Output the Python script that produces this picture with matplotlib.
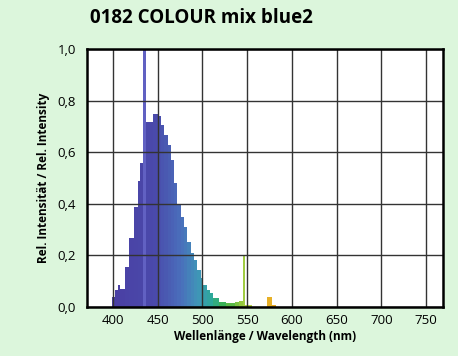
import numpy as np
import matplotlib.pyplot as plt
from matplotlib.colors import LinearSegmentedColormap

# spectrum: bin edges (nm) and relative intensity per bin
edges = [399, 402, 405.5, 407.5, 414, 418.5, 424, 427.5, 430, 433.5, 437,
         444.5, 450, 454, 457.5, 461, 465, 468.5, 472, 476, 479.5, 483, 487,
         490.5, 494, 498, 501, 505, 509, 512, 519, 526, 536, 541, 545.5, 548,
         556, 572.5, 578, 582]
values = [0.04, 0.066, 0.085, 0.07, 0.156, 0.267, 0.389, 0.49, 0.56, 1.0,
          0.716, 0.75, 0.74, 0.705, 0.667, 0.628, 0.57, 0.479, 0.395, 0.35,
          0.311, 0.253, 0.209, 0.182, 0.143, 0.111, 0.085, 0.066, 0.053, 0.034,
          0.021, 0.014, 0.02, 0.022, 0.2, 0.006, 0.0, 0.04, 0.008]

x_ticks = [400, 450, 500, 550, 600, 650, 700, 750]
y_ticks = [0.0, 0.2, 0.4, 0.6, 0.8, 1.0]

title = "0182 COLOUR mix blue2"
xlabel = "Wellenlänge / Wavelength (nm)"
ylabel = "Rel. Intensität / Rel. Intensity"

plt.rcParams['font.family'] = ['Open Sans', 'DejaVu Sans']

bg = '#dcf6dc'
spec = LinearSegmentedColormap.from_list('spec', [
    (0.0, '#4a3fa3'), (0.25, '#4a4aab'), (0.4, '#4a6fbb'), (0.5, '#3f95b8'),
    (0.58, '#2ea89a'), (0.66, '#3cb34a'), (0.75, '#8ec63f'),
    (0.82, '#c8d84a'), (0.9, '#e6b82a'), (1.0, '#e89a20')])

def wl_color(wl):
    return spec(np.clip((wl - 400) / (590 - 400), 0, 1))

fig = plt.figure(figsize=(4.58, 3.56), dpi=100, facecolor=bg)
ax = fig.add_axes([87 / 458, 1 - 307 / 356, (443 - 87) / 458, (307 - 49) / 356])

edges = np.array(edges)
widths = np.diff(edges)
centers = edges[:-1] + widths / 2
colors = [wl_color(c) for c in centers]
colors[9] = (0.38, 0.38, 0.76, 1.0)  # lighter spike at ~435 nm
ax.bar(edges[:-1], values, width=widths, align='edge', color=colors,
       linewidth=0, zorder=1)

ax.set_xlim(371, 769)
ax.set_ylim(0, 1.0)
ax.set_xticks(x_ticks)
ax.set_yticks(y_ticks)
ax.set_yticklabels([f"{v:.1f}".replace('.', ',') for v in y_ticks])
ax.tick_params(length=0, labelsize=9.5, pad=8)
ax.tick_params(axis='x', pad=5)
ax.grid(True, color='#333333', linewidth=1.0, zorder=3)
ax.set_axisbelow(False)
for s in ax.spines.values():
    s.set_linewidth(1.8)
    s.set_color('black')
    s.set_zorder(4)

ax.set_xlabel(xlabel, fontsize=8.5, fontweight='bold', labelpad=2)
ax.set_ylabel(ylabel, fontsize=8.5, fontweight='bold', labelpad=5)
fig.text(201 / 458, 1 - 18 / 356, title, fontsize=13.5, fontweight='bold',
         ha='center', va='center')

fig.savefig('out.png', dpi=100, facecolor=bg)
